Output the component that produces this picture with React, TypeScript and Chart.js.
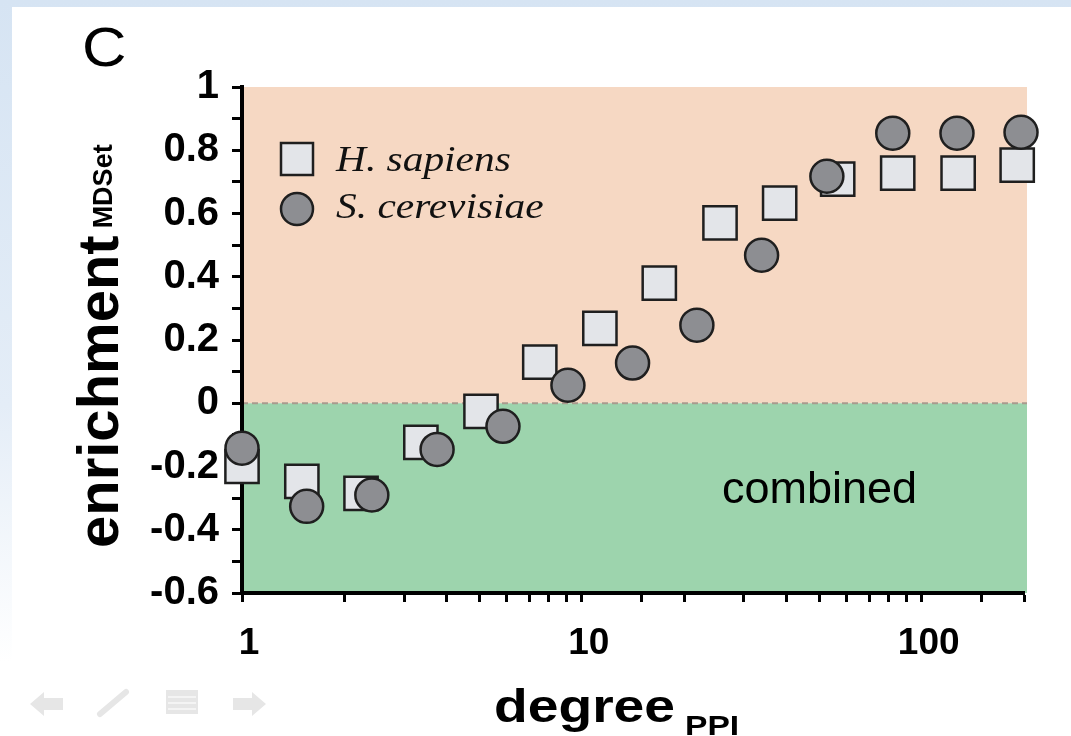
import React, { useEffect, useRef } from 'react';
import { Chart, registerables } from 'chart.js';

Chart.register(...registerables);

// ---- data ----
const hsDegree = [1, 1.5, 2.24, 3.36, 5.05, 7.52, 11.3, 16.9, 25.5, 38.2, 56.6, 85, 128, 191];
const hsEnrichment = [-0.2, -0.247, -0.285, -0.124, -0.026, 0.13, 0.237, 0.38, 0.57, 0.633, 0.709, 0.728, 0.728, 0.753];
const scDegree = [1, 1.55, 2.41, 3.75, 5.86, 9.1, 14.1, 21.8, 33.8, 52.6, 82.2, 127, 196];
const scEnrichment = [-0.142, -0.326, -0.29, -0.146, -0.073, 0.057, 0.127, 0.247, 0.468, 0.718, 0.854, 0.854, 0.857];

const xLabelled = [1, 10, 100];
const xMin = 1;
const xMax = 200;
const yMin = -0.6;
const yMax = 1;
const yStep = 0.1;
const bandTop = 1;
const bandSplit = 0;
const bandBottom = -0.6;

const seriesNames = ['H. sapiens', 'S. cerevisiae'];
const panelLetter = 'C';
const yTitle = 'enrichment';
const ySub = 'MDSet';
const xTitle = 'degree';
const xSub = 'PPI';
const bandNote = 'combined';

const ORANGE = 'rgb(246, 216, 195)';
const GREEN = 'rgb(157, 212, 173)';
const SQ_FILL = '#e3e5e9';
const CI_FILL = '#8d8e92';
const EDGE = '#1f1f1f';
const SANS = '"Liberation Sans", Arial, Helvetica, sans-serif';
const SERIF = '"Liberation Serif", "Times New Roman", serif';

function stretchedText(ctx: any, text: string, x: number, y: number, sx: number) {
  ctx.save();
  ctx.translate(x, y);
  ctx.scale(sx, 1);
  ctx.fillText(text, 0, 0);
  const w = ctx.measureText(text).width * sx;
  ctx.restore();
  return w;
}

const decor = {
  id: 'decor',
  beforeDraw(chart: any) {
    const { ctx, chartArea: a, scales } = chart;
    const y = scales.y;
    const yt = y.getPixelForValue(bandTop);
    const y0 = y.getPixelForValue(bandSplit);
    const yb = y.getPixelForValue(bandBottom);
    ctx.save();
    ctx.fillStyle = ORANGE;
    ctx.fillRect(a.left, yt, a.right - a.left + 3, y0 - yt);
    ctx.fillStyle = GREEN;
    ctx.fillRect(a.left, y0, a.right - a.left + 3, yb - y0);
    ctx.strokeStyle = '#a99a8e';
    ctx.lineWidth = 2;
    ctx.setLineDash([6, 4]);
    ctx.beginPath();
    ctx.moveTo(a.left, y0);
    ctx.lineTo(a.right + 3, y0);
    ctx.stroke();
    ctx.restore();
  },
  afterDraw(chart: any) {
    const { ctx } = chart;
    ctx.save();
    ctx.fillStyle = '#000';
    ctx.textBaseline = 'alphabetic';
    ctx.textAlign = 'left';

    // panel letter
    ctx.font = `56px ${SANS}`;
    stretchedText(ctx, panelLetter, 82, 66, 1.1);

    // y title (rotated)
    ctx.save();
    ctx.translate(118, 548);
    ctx.rotate(-Math.PI / 2);
    ctx.font = `bold 58px ${SANS}`;
    ctx.fillText(yTitle, 0, 0);
    const w1 = ctx.measureText(yTitle).width;
    ctx.font = `bold 27px ${SANS}`;
    ctx.fillText(ySub, w1 + 7, -6);
    ctx.restore();

    // x title
    ctx.font = `bold 46px ${SANS}`;
    const w2 = stretchedText(ctx, xTitle, 494, 722, 1.2);
    ctx.font = `bold 28px ${SANS}`;
    stretchedText(ctx, xSub, 494 + w2 + 10, 735, 1.2);

    // band note
    ctx.font = `45px ${SANS}`;
    ctx.fillText(bandNote, 722, 503);

    // legend
    ctx.lineWidth = 2.5;
    ctx.strokeStyle = EDGE;
    ctx.fillStyle = SQ_FILL;
    ctx.fillRect(281, 143, 32, 32);
    ctx.strokeRect(281, 143, 32, 32);
    ctx.fillStyle = CI_FILL;
    ctx.beginPath();
    ctx.arc(297, 209, 16, 0, Math.PI * 2);
    ctx.fill();
    ctx.stroke();
    ctx.fillStyle = '#111';
    ctx.font = `italic 36px ${SERIF}`;
    stretchedText(ctx, seriesNames[0], 336, 171, 1.15);
    stretchedText(ctx, seriesNames[1], 336, 218, 1.15);

    // faint navigation icons
    ctx.fillStyle = '#e6e6e6';
    ctx.strokeStyle = '#e6e6e6';
    ctx.beginPath();
    ctx.moveTo(30, 704); ctx.lineTo(44, 692); ctx.lineTo(44, 698); ctx.lineTo(63, 698);
    ctx.lineTo(63, 710); ctx.lineTo(44, 710); ctx.lineTo(44, 716); ctx.closePath();
    ctx.fill();
    ctx.lineWidth = 6;
    ctx.lineCap = 'round';
    ctx.beginPath();
    ctx.moveTo(100, 714); ctx.lineTo(126, 692);
    ctx.stroke();
    ctx.fillRect(166, 690, 32, 24);
    ctx.fillStyle = '#f4f4f4';
    ctx.fillRect(168, 696, 28, 2);
    ctx.fillRect(168, 702, 28, 2);
    ctx.fillRect(168, 708, 28, 2);
    ctx.fillStyle = '#e6e6e6';
    ctx.beginPath();
    ctx.moveTo(266, 704); ctx.lineTo(252, 692); ctx.lineTo(252, 698); ctx.lineTo(233, 698);
    ctx.lineTo(233, 710); ctx.lineTo(252, 710); ctx.lineTo(252, 716); ctx.closePath();
    ctx.fill();
    ctx.restore();
  },
};

function fmtY(v: number) {
  const k = Math.round(v * 10);
  if (k % 2 !== 0) return '';
  return String(k / 10);
}

export default function App() {
  const ref = useRef<HTMLCanvasElement | null>(null);

  useEffect(() => {
    if (!ref.current) return;
    const chart = new Chart(ref.current, {
      type: 'scatter',
      data: {
        datasets: [
          {
            label: seriesNames[1],
            data: scDegree.map((d, i) => ({ x: d, y: scEnrichment[i] })),
            pointStyle: 'circle',
            pointRadius: 16.5,
            pointBackgroundColor: CI_FILL,
            pointBorderColor: EDGE,
            pointBorderWidth: 2.5,
            order: 0,
            clip: false as any,
          },
          {
            label: seriesNames[0],
            data: hsDegree.map((d, i) => ({ x: d, y: hsEnrichment[i] })),
            pointStyle: 'rect',
            pointRadius: 23.5,
            pointBackgroundColor: SQ_FILL,
            pointBorderColor: EDGE,
            pointBorderWidth: 2.5,
            order: 1,
            clip: false as any,
          },
        ],
      },
      options: {
        animation: false,
        responsive: false,
        maintainAspectRatio: false,
        events: [],
        layout: { padding: { top: 87, right: 47, left: 0, bottom: 0 } },
        plugins: {
          legend: { display: false },
          tooltip: { enabled: false },
        },
        scales: {
          x: {
            type: 'logarithmic',
            min: xMin,
            max: xMax,
            position: 'bottom',
            border: { display: true, color: '#000', width: 4 },
            grid: {
              display: true,
              drawOnChartArea: false,
              drawTicks: true,
              tickLength: 9,
              tickWidth: 3,
              tickColor: '#000',
              color: '#000',
            },
            ticks: {
              autoSkip: false,
              maxRotation: 0,
              color: '#000',
              padding: 20,
              labelOffset: 7,
              font: { family: SANS, size: 37, weight: 'bold' },
              callback: (v: any) => (xLabelled.includes(Number(v)) ? String(v) : ''),
            },
            afterFit: (s: any) => {
              s.height = 143;
            },
          },
          y: {
            type: 'linear',
            min: yMin,
            max: yMax,
            border: { display: true, color: '#000', width: 4 },
            grid: {
              display: true,
              drawOnChartArea: false,
              drawTicks: true,
              tickLength: 10,
              tickWidth: 3,
              tickColor: '#000',
              color: '#000',
            },
            ticks: {
              stepSize: yStep,
              autoSkip: false,
              color: '#000',
              padding: 13,
              font: { family: SANS, size: 40, weight: 'bold' },
              callback: (v: any) => fmtY(Number(v)),
            },
            afterFit: (s: any) => {
              s.width = 242;
            },
          },
        },
      },
      plugins: [decor],
    } as any);
    return () => chart.destroy();
  }, []);

  return (
    <div
      style={{
        position: 'absolute',
        left: 0,
        top: 0,
        width: 1071,
        height: 736,
        overflow: 'hidden',
        background: 'linear-gradient(to bottom, #d6e4f3 0%, #e4edf7 55%, #ffffff 90%)',
      }}
    >
      <div
        style={{
          position: 'absolute',
          left: 12,
          top: 7,
          width: 1059,
          height: 729,
          background: '#ffffff',
        }}
      />
      <canvas
        ref={ref}
        width={1071}
        height={736}
        style={{ position: 'absolute', left: 0, top: 0, width: 1071, height: 736, display: 'block' }}
      />
    </div>
  );
}
